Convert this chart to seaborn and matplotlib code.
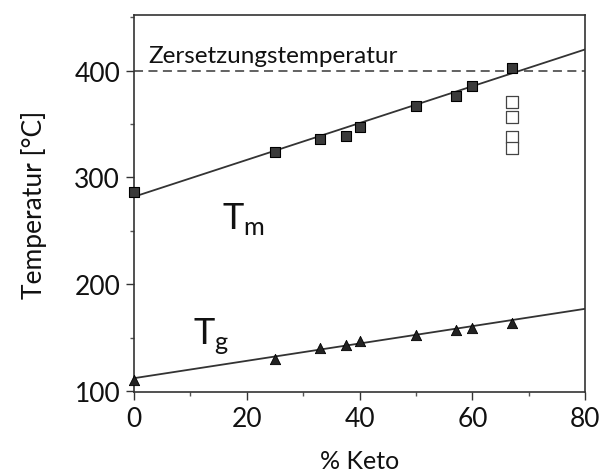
import numpy as np
import pandas as pd
import matplotlib
matplotlib.use("Agg")
import matplotlib.pyplot as plt
import seaborn as sns
from matplotlib.ticker import MultipleLocator

# values
keto = [0, 25, 33, 37.5, 40, 50, 57, 60, 67]
tm_vals = [286, 324, 336, 339, 347, 367, 376, 386, 403]
tg_vals = [110, 130, 140, 143, 147, 152, 157, 159, 164]
open_x = [67, 67, 67, 67]
open_vals = [371, 357, 338, 328]
fit_x = [0, 80]
tm_fit = [282, 420]
tg_fit = [112, 177]
decomp_temp = 400

sns.set_theme(style="white")
plt.rcParams['font.family'] = ['Lato', 'DejaVu Sans']

df_tm = pd.DataFrame({"x": keto, "y": tm_vals})
df_tg = pd.DataFrame({"x": keto, "y": tg_vals})
df_open = pd.DataFrame({"x": open_x, "y": open_vals})
df_fit = pd.DataFrame({"x": fit_x + fit_x, "y": tm_fit + tg_fit,
                       "kind": ["Tm", "Tm", "Tg", "Tg"]})

fig = plt.figure(figsize=(6.04, 4.77), dpi=100)
ax = fig.add_axes([0.222, 0.176, 0.747, 0.79])

sns.lineplot(data=df_fit, x="x", y="y", units="kind", estimator=None,
             color="#333333", lw=1.3, ax=ax, legend=False)
ax.axhline(decomp_temp, color="#555555", ls=(0, (5, 3)), lw=1.3)
sns.scatterplot(data=df_tm, x="x", y="y", marker="s", s=60, color="#3a3a3a",
                edgecolor="black", linewidth=0.8, ax=ax, zorder=5, clip_on=False)
sns.scatterplot(data=df_tg, x="x", y="y", marker="^", s=55, color="#222222",
                edgecolor="black", linewidth=0.6, ax=ax, zorder=5, clip_on=False)
sns.scatterplot(data=df_open, x="x", y="y", marker="s", s=65, color="white",
                edgecolor="#444444", linewidth=0.9, ax=ax, zorder=5)

ax.set_xlim(0, 80)
ax.set_ylim(99, 452)
ax.xaxis.set_major_locator(MultipleLocator(20))
ax.xaxis.set_minor_locator(MultipleLocator(10))
ax.yaxis.set_major_locator(MultipleLocator(100))
ax.yaxis.set_minor_locator(MultipleLocator(50))
ax.tick_params(which="major", direction="out", length=6, width=1, labelsize=19,
               left=True, bottom=True, color="#333333", labelcolor="#111111", pad=4)
ax.tick_params(which="minor", direction="out", length=3, width=1,
               left=True, bottom=True, color="#555555")
for s in ax.spines.values():
    s.set_color("#333333")
    s.set_linewidth(1.2)

ax.set_xlabel("% Keto", fontsize=18, labelpad=13, color="#111111")
ax.set_ylabel("Temperatur [°C]", fontsize=19, labelpad=20, color="#111111")

ax.text(2.5, 404, "Zersetzungstemperatur", fontsize=17.5, ha="left", va="bottom",
        color="#111111")
ax.text(15.5, 262, r"T$_{\mathregular{m}}$", fontsize=26, ha="left", va="center",
        color="#111111")
ax.text(10.5, 152, r"T$_{\mathregular{g}}$", fontsize=26, ha="left", va="center",
        color="#111111")

fig.savefig("out.png", dpi=100)
